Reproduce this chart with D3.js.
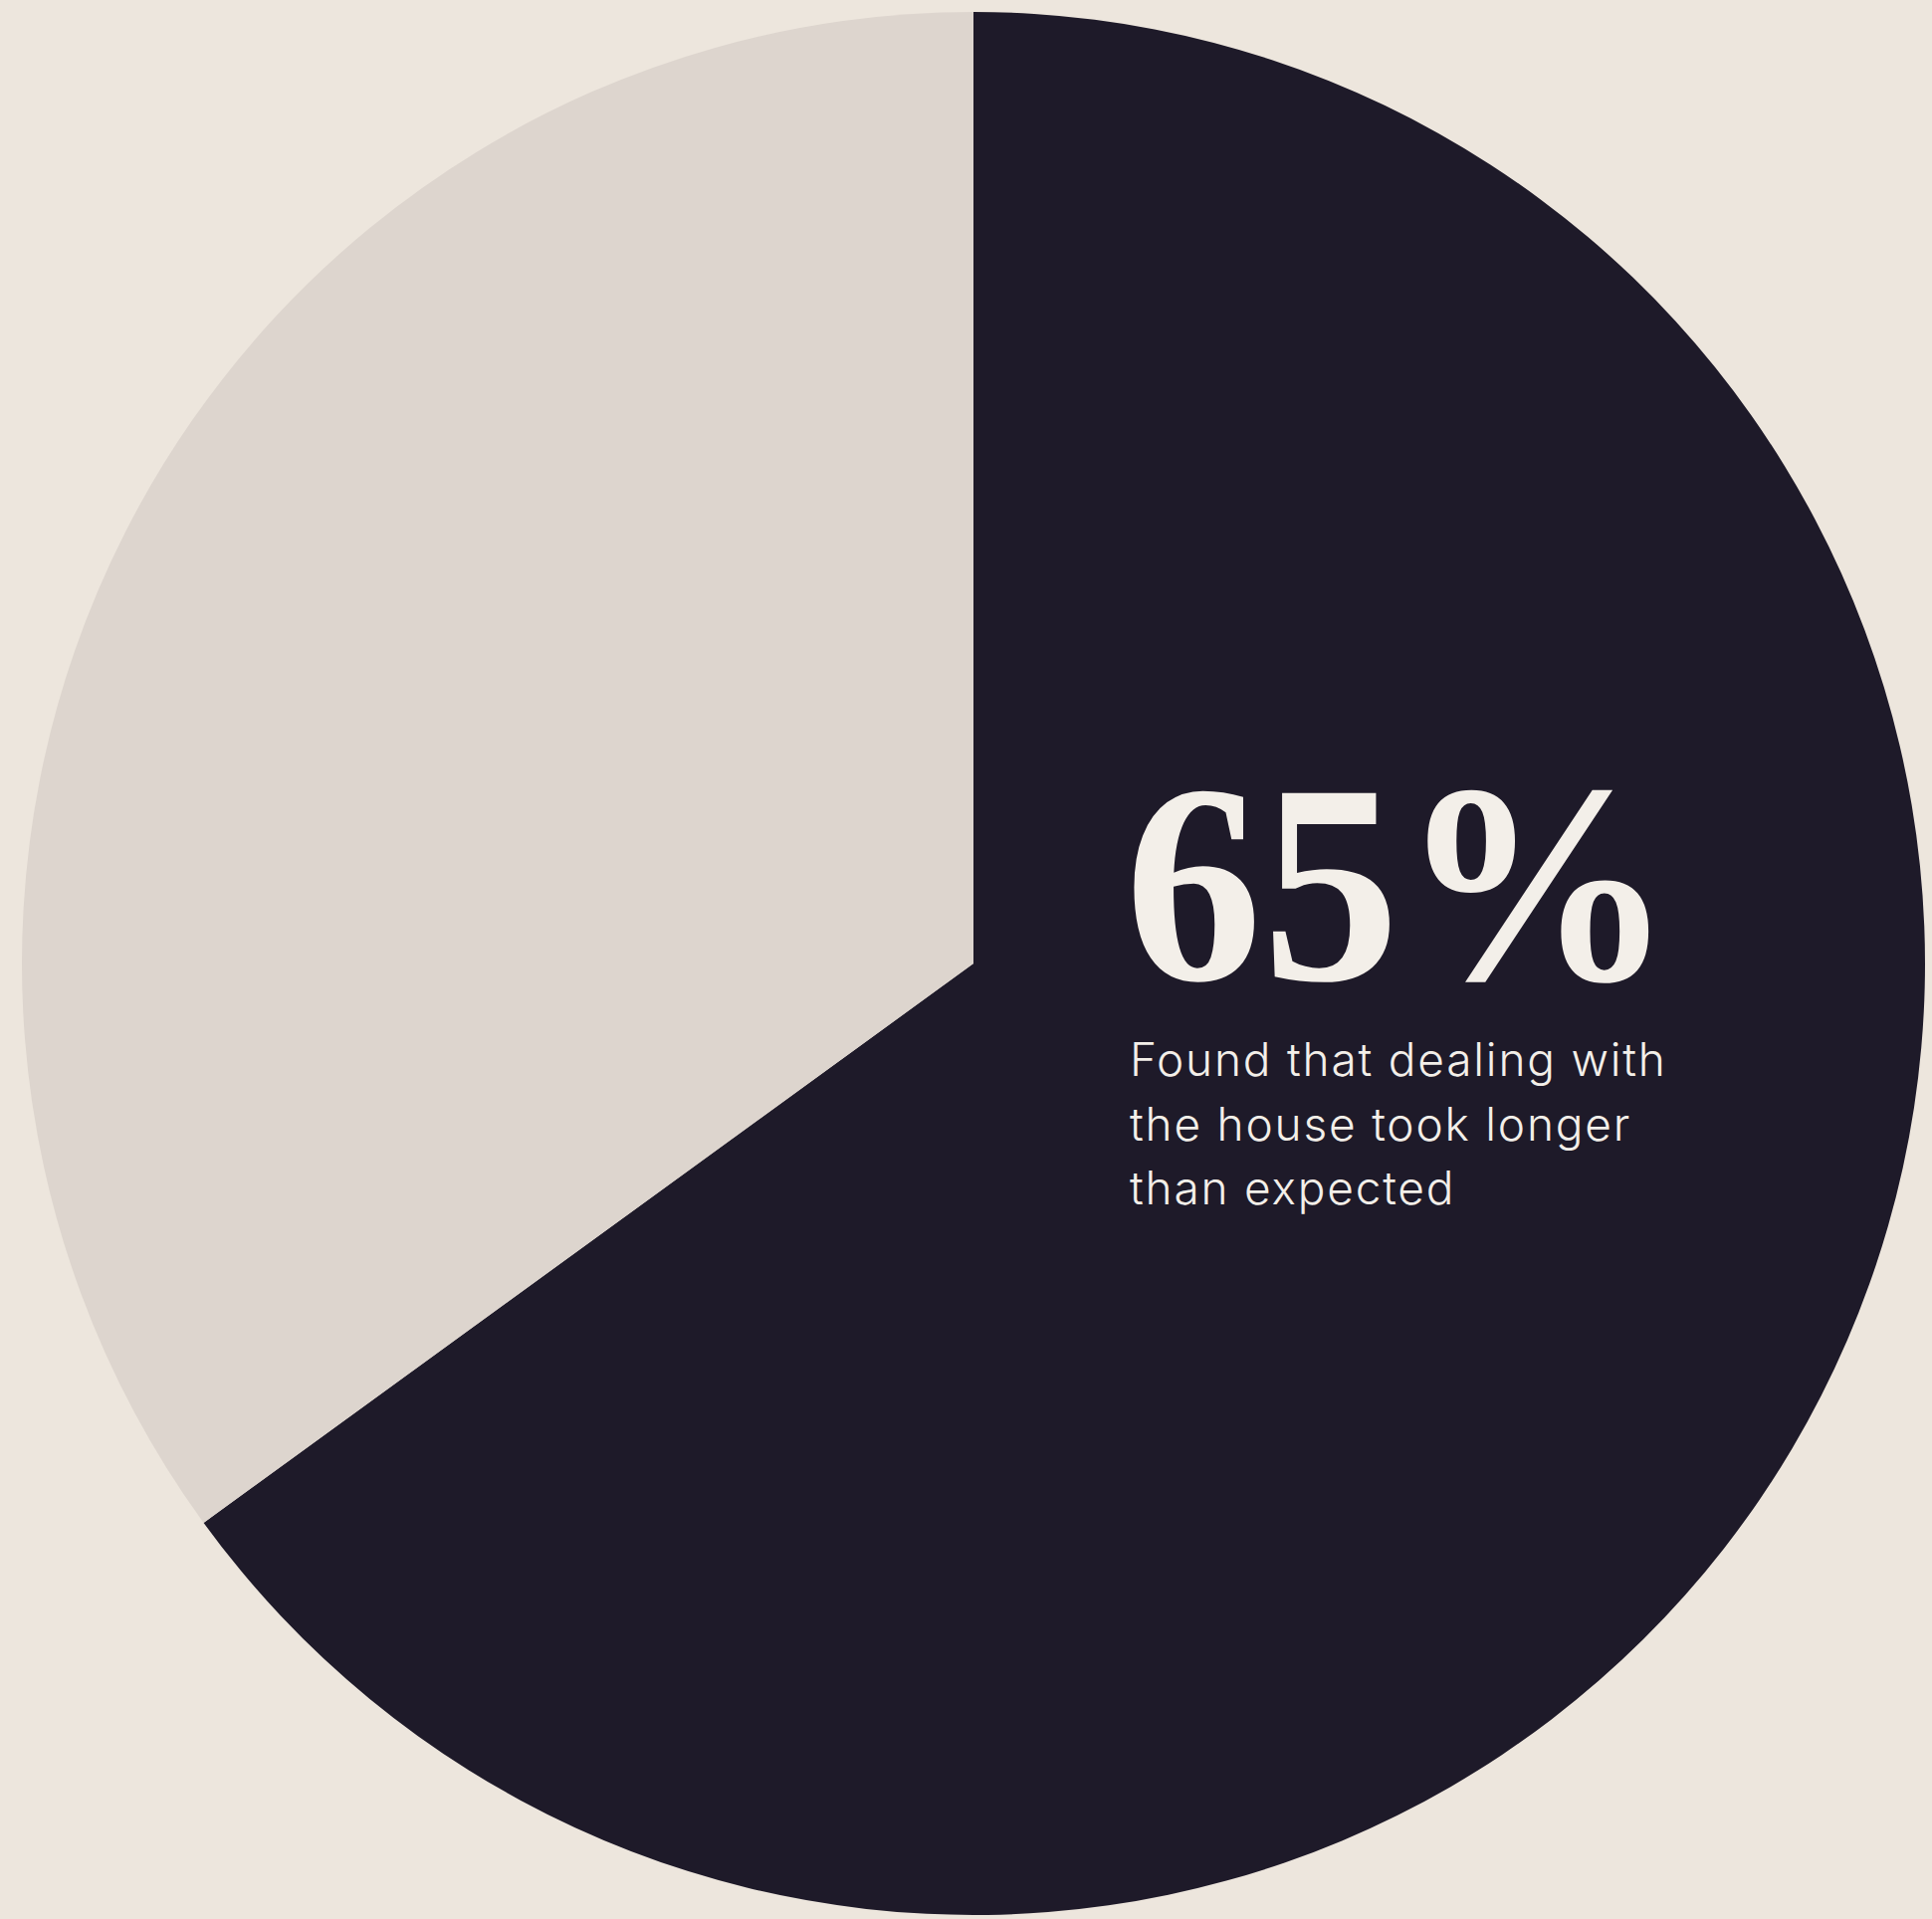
<!DOCTYPE html>
<html>
<head>
<meta charset="utf-8">
<script src="https://cdn.jsdelivr.net/npm/d3@7"></script>
<style>
  html, body { margin: 0; padding: 0; background: #ede6dd; }
  svg { display: block; }
</style>
</head>
<body>
<svg id="chart" width="1941" height="1928"></svg>
<script>
const categories = ["Took longer than expected", "Other"];
const values = [65, 35];
const headline = "65%";
const captionLines = ["Found that dealing with", "the house took longer", "than expected"];

const W = 1941, H = 1928;
const cx = 978, cy = 968, R = 956;
const colors = d3.scaleOrdinal().domain(categories).range(["#1e1a29", "#ddd5ce"]);

const svg = d3.select("#chart");
svg.append("rect").attr("width", W).attr("height", H).attr("fill", "#ede6dd");

const pie = d3.pie().sort(null).value(d => d.value);
const arc = d3.arc().innerRadius(0).outerRadius(R);
const data = categories.map((c, i) => ({ cat: c, value: values[i] }));

const g = svg.append("g").attr("transform", `translate(${cx},${cy})`);
g.selectAll("path").data(pie(data)).join("path")
  .attr("d", arc)
  .attr("fill", d => colors(d.data.cat));

svg.append("g")
  .attr("transform", "translate(1130,984) scale(1,1.10)")
  .append("text")
  .attr("x", 0).attr("y", 0)
  .attr("font-family", "'Liberation Serif', 'DejaVu Serif', serif")
  .attr("font-weight", 700)
  .attr("font-size", 260)
  .attr("textLength", 552)
  .attr("lengthAdjust", "spacingAndGlyphs")
  .attr("fill", "#f3efe9")
  .text(headline);

svg.append("g").selectAll("text").data(captionLines).join("text")
  .attr("x", 1135)
  .attr("y", (d, i) => 1081 + i * 64.5)
  .attr("font-family", "Inter, 'Noto Sans', sans-serif")
  .attr("font-weight", 300)
  .attr("font-size", 46)
  .attr("letter-spacing", 1.8)
  .attr("fill", "#f3efe9")
  .text(d => d);
</script>
</body>
</html>
